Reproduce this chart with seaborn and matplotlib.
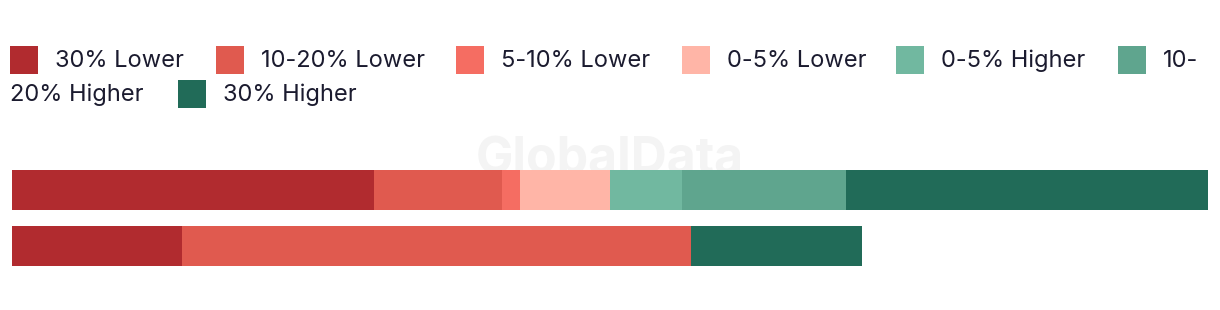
import matplotlib
matplotlib.use("Agg")
import matplotlib.pyplot as plt
from matplotlib.patches import Rectangle
import seaborn as sns
import pandas as pd
import numpy as np

# ---- data ----
categories = ["Group A", "Group B"]
series = ["30% Lower", "10-20% Lower", "5-10% Lower", "0-5% Lower",
          "0-5% Higher", "10-20% Higher", "30% Higher"]
values_a = [30.3, 10.7, 1.5, 7.5, 6.0, 13.7, 30.3]
values_b = [14.2, 42.6, 0.0, 0.0, 0.0, 0.0, 14.3]
colors = ["#B12B2F", "#E05A4F", "#F56D62", "#FFB5A7",
          "#71B8A0", "#5FA58E", "#216B58"]

sns.set_theme(style="white")
plt.rcParams["font.family"] = ["Inter", "DejaVu Sans"]

W, H = 1220, 310
fig = plt.figure(figsize=(W / 100, H / 100), dpi=100)
fig.patch.set_facecolor("white")
ax = fig.add_axes([12 / W, 36 / H, 1196 / W, 112 / H])
ax.set_facecolor("none")

df = pd.DataFrame([values_a, values_b], columns=series)
df["category"] = categories
cum = df[series].cumsum(axis=1)

# stacked bars: draw cumulative totals from the last series to the first
for s, c in zip(reversed(series), reversed(colors)):
    sns.barplot(x=cum[s], y=df["category"], color=c, orient="h",
                width=40 / 56, ax=ax, zorder=2, linewidth=0, saturation=1)

ax.set_xlim(0, 100)
ax.set_ylim(1.5, -0.5)
ax.set_xlabel("")
ax.set_ylabel("")
ax.set_xticks([])
ax.set_yticks([])
for sp in ax.spines.values():
    sp.set_visible(False)

# watermark
ax.text(0.5, 1 - (173 - 162) / 112, "GlobalData", transform=ax.transAxes,
        ha="center", va="baseline", fontsize=36, fontweight="bold",
        color="#F4F4F4", zorder=0.5, clip_on=False)

# ---- legend (HTML-style wrapping) ----
txt_color = "#1B1B2F"
fs = 17
# (marker x or None, text x, baseline y, label)
legend_items = [
    (10, 55, 67, series[0]),
    (216, 261, 67, series[1]),
    (456, 501, 67, series[2]),
    (682, 727, 67, series[3]),
    (896, 941, 67, series[4]),
    (1118, 1163, 67, "10-"),
    (None, 10, 101, "20% Higher"),
    (178, 223, 101, series[6]),
]
marker_colors = [colors[0], colors[1], colors[2], colors[3], colors[4],
                 colors[5], None, colors[6]]
line_centers = {67: 60, 101: 94}
for (mx, tx, by, lab), mc in zip(legend_items, marker_colors):
    if mx is not None:
        cy = line_centers[by]
        fig.add_artist(Rectangle((mx / W, 1 - (cy + 14) / H), 28 / W, 28 / H,
                                 transform=fig.transFigure, facecolor=mc,
                                 edgecolor="none"))
    fig.text(tx / W, 1 - by / H, lab, ha="left", va="baseline",
             fontsize=fs, color=txt_color)

fig.savefig("out.png", dpi=100, facecolor="white")
